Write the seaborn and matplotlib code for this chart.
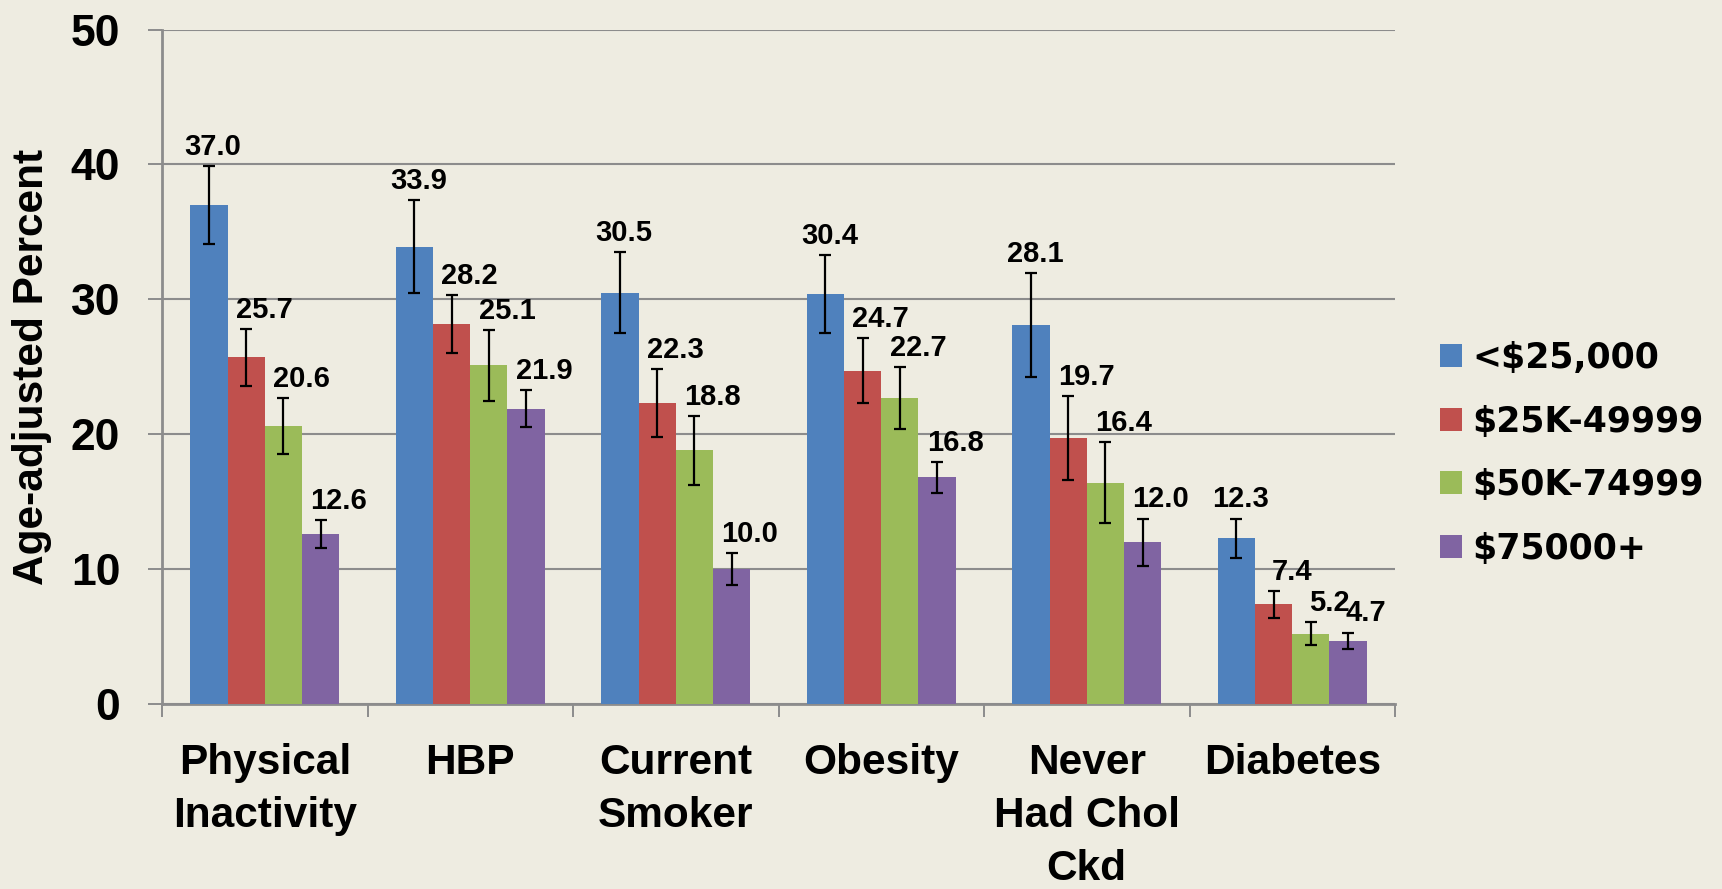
import numpy as np
import pandas as pd
import matplotlib
matplotlib.use("Agg")
import matplotlib.pyplot as plt
import seaborn as sns

# ---------------- data ----------------
categories = ["Physical\nInactivity", "HBP", "Current\nSmoker", "Obesity",
              "Never\nHad Chol\nCkd", "Diabetes"]
groups = ["<$25,000", "$25K-49999", "$50K-74999", "$75000+"]
under_25k = [37.0, 33.9, 30.5, 30.4, 28.1, 12.3]
k25_49 = [25.7, 28.2, 22.3, 24.7, 19.7, 7.4]
k50_74 = [20.6, 25.1, 18.8, 22.7, 16.4, 5.2]
k75_plus = [12.6, 21.9, 10.0, 16.8, 12.0, 4.7]
err_under_25k = [2.9, 3.45, 3.0, 2.9, 3.85, 1.45]
err_25_49 = [2.1, 2.15, 2.5, 2.4, 3.1, 1.0]
err_50_74 = [2.1, 2.6, 2.55, 2.3, 3.0, 0.85]
err_75_plus = [1.05, 1.4, 1.2, 1.15, 1.75, 0.6]
y_ticks = [0, 10, 20, 30, 40, 50]
y_label = "Age-adjusted Percent"

series = [under_25k, k25_49, k50_74, k75_plus]
errors = [err_under_25k, err_25_49, err_50_74, err_75_plus]
colors = ["#4F81BD", "#C0504D", "#9BBB59", "#8064A2"]
bg = "#EEECE1"
grid_c = "#8C8C8C"

df = pd.DataFrame({
    "cat": [c for _ in groups for c in categories],
    "grp": np.repeat(groups, len(categories)),
    "val": np.concatenate(series),
})

sns.set_theme(style="white")
plt.rcParams["font.family"] = ["Liberation Sans", "DejaVu Sans"]
plt.rcParams["text.color"] = "black"
plt.rcParams["xtick.labelcolor"] = "black"
plt.rcParams["ytick.labelcolor"] = "black"

W, H = 1722, 889
fig = plt.figure(figsize=(W / 100, H / 100), dpi=100, facecolor=bg)
ax = fig.add_axes([162 / W, 1 - 704 / H, (1395 - 162) / W, (704 - 29.6) / H])
ax.set_facecolor(bg)

sns.barplot(data=df, x="cat", y="val", hue="grp", order=categories,
            hue_order=groups, palette=colors, saturation=1, width=0.725,
            errorbar=None, ax=ax, zorder=3, edgecolor="none")

# error bars and value labels
for cont, err, vals, k in zip(ax.containers, errors, series, range(4)):
    xs = [p.get_x() + p.get_width() / 2 for p in cont.patches]
    hs = [p.get_height() for p in cont.patches]
    ax.errorbar(xs, hs, yerr=err, fmt="none", ecolor="black", elinewidth=1.6,
                capsize=4.5, capthick=1.6, zorder=4)
    dx = 3 if k == 0 else 13
    for x, h, e, v in zip(xs, hs, err, vals):
        ax.annotate(f"{v:.1f}", (x, h + e), xytext=(dx, 8), textcoords="offset points",
                    ha="center", va="baseline", fontsize=21, fontweight="bold",
                    color="black", zorder=5)

ax.set_ylim(0, 50)
ax.set_xlim(-0.5, len(categories) - 0.5)
ax.set_yticks(y_ticks)
ax.set_yticklabels([str(t) for t in y_ticks], fontweight="bold", fontsize=32,
                   color="black")
ax.yaxis.grid(True, color=grid_c, linewidth=1.5, zorder=0)
ax.xaxis.grid(False)
ax.set_axisbelow(True)
ax.tick_params(axis="y", which="major", length=10, width=1.4, color=grid_c,
               pad=20, left=True)

ax.set_xticks(range(len(categories)))
ax.set_xticklabels(categories, fontsize=30.5, fontweight="bold", linespacing=1.42,
                   color="black")
ax.set_xticks(np.arange(-0.5, len(categories)), minor=True)
ax.tick_params(axis="x", which="major", length=0, pad=28)
ax.tick_params(axis="x", which="minor", length=9.5, width=1.4, color=grid_c,
               bottom=True)

for s in ["top", "right"]:
    ax.spines[s].set_visible(False)
for s in ["left", "bottom"]:
    ax.spines[s].set_color(grid_c)
    ax.spines[s].set_linewidth(2.0)

ax.set_xlabel("")
ax.set_ylabel("")
fig.text(32 / W, 1 - 367 / H, y_label, rotation=90, ha="center", va="center",
         fontsize=30.5, fontweight="bold", color="black")

leg = ax.legend(loc="upper left", bbox_to_anchor=(1440 / W, 1 - 341 / H),
                bbox_transform=fig.transFigure, frameon=False,
                prop={"family": "DejaVu Sans", "weight": "bold", "size": 25},
                handlelength=0.63, handleheight=0.63, handletextpad=0.3,
                labelspacing=0.85, borderpad=0, borderaxespad=0)

fig.savefig("out.png", dpi=100, facecolor=bg)
